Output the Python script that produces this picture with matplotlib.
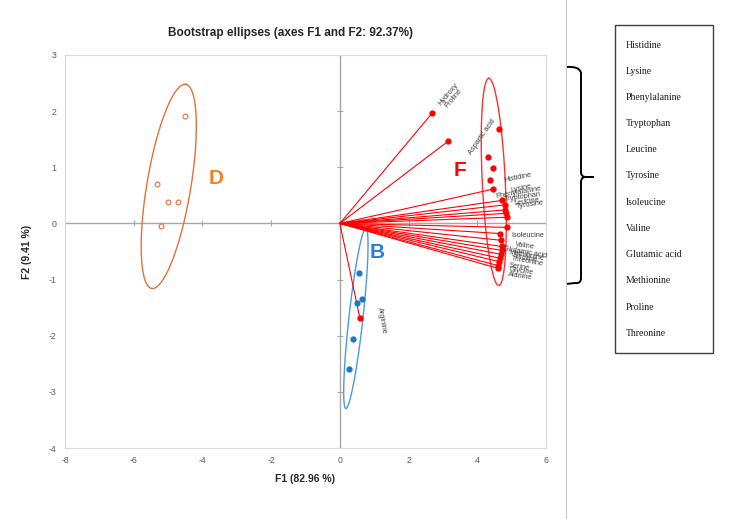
import numpy as np
import matplotlib
matplotlib.use("Agg")
import matplotlib.pyplot as plt
from matplotlib.lines import Line2D
from matplotlib.patches import Rectangle, PathPatch
from matplotlib.path import Path

# ---------------- data ----------------
vec_names = ['Hydroxy\nProline', 'Aspartic acid', 'Histidine', 'Lysine', 'Phenylalanine',
             'Tryptophan', 'Leucine', 'Tyrosine', '', 'Isoleucine', 'Valine', 'Glutamic acid',
             'Methionine', 'Proline', 'Threonine', 'Serine', 'Glycine', 'Alanine', 'Arginine']
vec_x = [2.68, 3.14, 4.45, 4.72, 4.80, 4.80, 4.83, 4.86, 4.86, 4.66, 4.69, 4.71,
         4.71, 4.69, 4.66, 4.63, 4.60, 4.60, 0.58]
vec_y = [1.96, 1.46, 0.61, 0.41, 0.33, 0.24, 0.18, 0.11, -0.07, -0.18, -0.30, -0.41,
         -0.48, -0.55, -0.62, -0.68, -0.75, -0.80, -1.68]

# bootstrap points
f_boot_x = [4.63, 4.31, 4.45, 4.37]
f_boot_y = [1.69, 1.18, 0.98, 0.77]
d_boot_x = [-4.51, -5.33, -5.01, -4.71, -5.21]
d_boot_y = [1.91, 0.71, 0.39, 0.39, -0.05]
b_boot_x = [0.55, 0.49, 0.64, 0.38, 0.26]
b_boot_y = [-0.89, -1.41, -1.34, -2.05, -2.60]

# ellipses: center, major semi-axis vector, minor semi-axis vector
ell_D = dict(c=(-4.98, 0.66), a=(0.495, 1.818), b=(0.632, -0.064))
ell_B = dict(c=(0.466, -1.693), a=(0.291, 1.604), b=(0.203, -0.014))
ell_F = dict(c=(4.48, 0.74), a=(-0.146, 1.845), b=(0.335, 0.0100))

x_ticks = [-8, -6, -4, -2, 0, 2, 4, 6]
y_ticks = [-4, -3, -2, -1, 0, 1, 2, 3]

legend_items = ['Histidine', 'Lysine', 'Phenylalanine', 'Tryptophan', 'Leucine', 'Tyrosine',
                'Isoleucine', 'Valine', 'Glutamic acid', 'Methionine', 'Proline', 'Threonine']

# label placement (offset points) and rotation
lab_dx = [13.7, 25, 18, 14, 10, 13, 15, 17, 0, 20, 17, 17, 18, 18, 20, 15, 17, 16, 16]
lab_dy = [12.2, 3, 8, 9, 9, 9, 8, 9, 0, -1.5, -4, -4, -4, -3, -2, -4, -4, -6, -2]
lab_rot = [50, 55, 12, 12, 10, 8, 8, 8, 0, 0, -8, -10, -10, -10, -10, -8, -8, -8, -80]

# ---------------- figure ----------------
W, H = 729, 519
plt.rcParams['axes.unicode_minus'] = False
fig = plt.figure(figsize=(W / 100, H / 100), dpi=100)
plt.rcParams['font.family'] = ['Liberation Sans', 'DejaVu Sans']

ax = fig.add_axes([65 / W, 1 - 448 / H, (546 - 65) / W, (448 - 55) / H])
ax.set_xlim(-8, 6)
ax.set_ylim(-4, 3)
for s in ax.spines.values():
    s.set_color('#d9d9d9')
    s.set_linewidth(0.8)
ax.set_xticks(x_ticks)
ax.set_yticks(y_ticks)
ax.tick_params(length=0, labelsize=6.3, colors='#595959', pad=6)

# zero lines with tick marks
ax.axhline(0, color='#a6a6a6', lw=1.0, zorder=1)
ax.axvline(0, color='#a6a6a6', lw=1.0, zorder=1)
ax.plot(x_ticks, [0] * len(x_ticks), ls='none', marker='|', ms=4, color='#a6a6a6', mew=0.8, zorder=1)
ax.plot([0] * len(y_ticks), y_ticks, ls='none', marker='_', ms=4, color='#a6a6a6', mew=0.8, zorder=1)

def draw_ellipse(e, color):
    t = np.linspace(0, 2 * np.pi, 300)
    cx, cy = e['c']
    ax_, ay_ = e['a']
    bx_, by_ = e['b']
    xs = cx + np.cos(t) * ax_ + np.sin(t) * bx_
    ys = cy + np.cos(t) * ay_ + np.sin(t) * by_
    ax.plot(xs, ys, color=color, lw=1.0, zorder=2)

draw_ellipse(ell_D, '#e2703a')
draw_ellipse(ell_B, '#4a9bd8')
draw_ellipse(ell_F, '#ff3030')

# vectors
for x, y in zip(vec_x, vec_y):
    ax.plot([0, x], [0, y], color='#ff0000', lw=0.8, zorder=3)
ax.plot(vec_x, vec_y, ls='none', marker='o', ms=3.5, color='#ff0000', zorder=4)
ax.plot(f_boot_x, f_boot_y, ls='none', marker='o', ms=3.5, color='#ff0000', zorder=4)
ax.plot(b_boot_x, b_boot_y, ls='none', marker='o', ms=3.5, color='#1f77c4', zorder=4)
ax.plot(d_boot_x, d_boot_y, ls='none', marker='o', ms=3.5, mfc='white', mec='#e2703a', mew=0.8, zorder=4)

for name, x, y, dx, dy, r in zip(vec_names, vec_x, vec_y, lab_dx, lab_dy, lab_rot):
    if not name:
        continue
    ax.annotate(name, (x, y), xytext=(dx, dy), textcoords='offset points', fontsize=5.3,
                color='#404040', rotation=r, ha='center', va='center',
                rotation_mode='anchor', linespacing=1.0, zorder=5)

# cluster letters
ax.text(-3.6, 0.80, 'D', color='#f58220', fontsize=15, fontweight='bold', ha='center', va='center')
ax.text(1.08, -0.52, 'B', color='#2e7dd1', fontsize=15, fontweight='bold', ha='center', va='center')
ax.text(3.49, 0.94, 'F', color='#ff0000', fontsize=15, fontweight='bold', ha='center', va='center')

ax.set_xlabel('F1 (82.96 %)', fontsize=7.5, fontweight='bold', color='#262626', labelpad=6)
ax.set_ylabel('F2 (9.41 %)', fontsize=7.5, fontweight='bold', color='#262626', labelpad=12)
fig.text(290 / W, 1 - 33 / H, 'Bootstrap ellipses (axes F1 and F2: 92.37%)', fontsize=8.5,
         fontweight='bold', color='#262626', ha='center', va='center')

# right side: separator, brace, list box
def fx(px):
    return px / W

def fy(py):
    return 1 - py / H

fig.add_artist(Line2D([fx(566), fx(566)], [0, 1], color='#c8c8c8', lw=0.8))

verts = [(fx(566), fy(67)), (fx(580), fy(66)), (fx(581), fy(73)),
         (fx(581), fy(172)),
         (fx(581), fy(177)), (fx(586), fy(177)), (fx(594), fy(177)),
         (fx(586), fy(177)), (fx(581), fy(177)), (fx(581), fy(182)),
         (fx(581), fy(278)),
         (fx(581), fy(284)), (fx(575), fy(283)), (fx(566), fy(284))]
codes = [Path.MOVETO, Path.CURVE3, Path.CURVE3,
         Path.LINETO,
         Path.CURVE3, Path.CURVE3, Path.LINETO,
         Path.LINETO, Path.CURVE3, Path.CURVE3,
         Path.LINETO,
         Path.CURVE3, Path.CURVE3, Path.LINETO]
brace = PathPatch(Path(verts, codes), transform=fig.transFigure, fill=False, lw=1.4, ec='black')
fig.add_artist(brace)

fig.add_artist(Rectangle((fx(615), fy(353)), (713 - 615) / W, (353 - 25) / H,
                         transform=fig.transFigure, fill=False, ec='#404040', lw=1.0))
for i, name in enumerate(legend_items):
    fig.text(fx(626), fy(45 + i * 26.2), name, fontsize=7, family=['Liberation Serif', 'DejaVu Serif'],
             color='#1a1a1a', ha='left', va='center')

fig.savefig('out.png', dpi=100)
